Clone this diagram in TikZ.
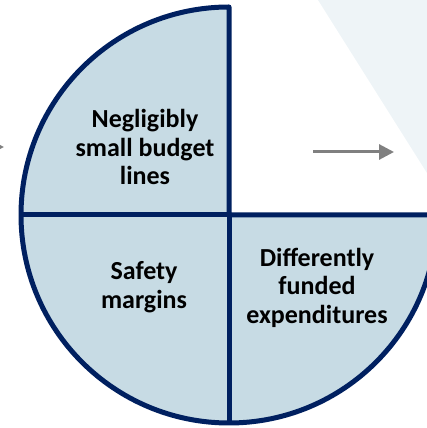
\documentclass[tikz,border=0pt]{standalone}
\usepackage{fontspec}
\setmainfont{Carlito}
\usetikzlibrary{arrows.meta}
\definecolor{navy}{HTML}{002060}
\definecolor{piefill}{HTML}{C7DBE4}
\definecolor{bgshade}{HTML}{EEF4F7}
\definecolor{arrowgray}{HTML}{808080}

\begin{document}
\begin{tikzpicture}[x=1pt, y=1pt,
    quadtext/.style={align=center, font=\fontsize{26}{28.5}\selectfont\bfseries},
    rim/.style={navy, line width=5pt, line join=round},
    arrow/.style={-{Triangle[length=15pt, width=15pt]}, arrowgray, line width=3pt}
  ]
    \useasboundingbox (0,0) rectangle (427,428);
    \clip (0,0) rectangle (427,428);

    % background
    \fill[bgshade] (318,428) -- (427,255) -- (427,428) -- cycle;

    % pie
    \coordinate (centre) at (229,213);
    \coordinate (left) at (21,213);
    \coordinate (right) at (437,213);
    \coordinate (bottom) at (229,5);
    \fill[piefill] (right) arc[start angle=0, end angle=-270, radius=208] -- (centre) -- cycle;
    \draw[rim] (right) arc[start angle=0, end angle=-270, radius=208] -- (centre) -- cycle;
    \draw[rim] (left) -- (centre) -- (bottom);

    % quadrant texts
    \node[quadtext] (budget) at (145,281) {Negligibly\\small budget\\lines};
    \node[quadtext] (safety) at (144,141) {Safety\\margins};
    \node[quadtext] (funded) at (317,140.5) {Differently\\funded\\expenditures};

    % arrows
    \coordinate (inStart) at (-60,281);
    \coordinate (inEnd) at (4,281);
    \coordinate (outStart) at (313,276);
    \coordinate (outEnd) at (394,276);
    \draw[arrow] (inStart) -- (inEnd);
    \draw[arrow] (outStart) -- (outEnd);
  \end{tikzpicture}
\end{document}
